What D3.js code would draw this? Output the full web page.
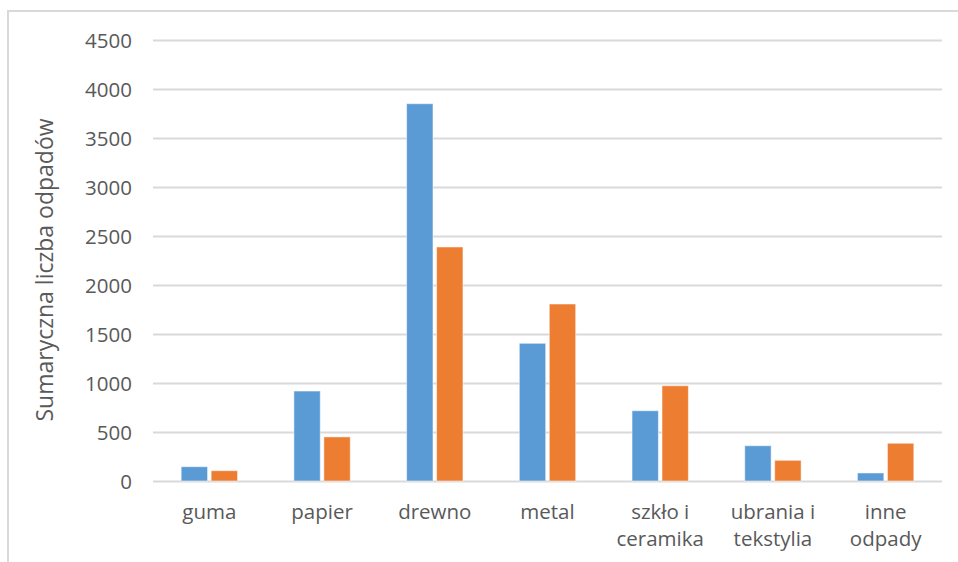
<!DOCTYPE html>
<html><head><meta charset="utf-8">
<script src="https://cdn.jsdelivr.net/npm/d3@7"></script>
<style>body{margin:0;background:#fff;}svg{display:block;}</style>
</head><body>
<svg id="c" width="958" height="562"></svg>
<script>
const categories = [["guma"],["papier"],["drewno"],["metal"],["szkło i","ceramika"],["ubrania i","tekstylia"],["inne","odpady"]];
const seriesA = [146, 918, 3850, 1405, 717, 360, 82];
const seriesB = [105, 450, 2388, 1806, 972, 211, 385];
const seriesColors = ["#5B9BD5", "#ED7D31"];
const yTicks = [0,500,1000,1500,2000,2500,3000,3500,4000,4500];
const yTitle = "Sumaryczna liczba odpadów";

(function(){
const svg = d3.select("#c");
const font = "Open Sans";
const txt = "#595959";
const pL = 153, pR = 942, pT = 40, pB = 481;

svg.append("rect").attr("x",8).attr("y",11).attr("width",1000).attr("height",600)
  .attr("fill","none").attr("stroke","#d9d9d9").attr("stroke-width",2);

const y = d3.scaleLinear().domain([0,4500]).range([pB, pT]);
const idx = d3.range(categories.length);
const x0 = d3.scaleBand().domain(idx).range([pL,pR]).paddingInner(0.5).paddingOuter(0.25);
const x1 = d3.scaleBand().domain([0,1]).range([0,x0.bandwidth()]).paddingInner(0.12);

const yAxis = d3.axisLeft(y).tickValues(yTicks).tickFormat(d3.format("d")).tickSize(-(pR-pL)).tickPadding(21);
const gy = svg.append("g").attr("transform",`translate(${pL},0)`).call(yAxis);
gy.select(".domain").remove();
gy.selectAll(".tick line").attr("stroke","#d9d9d9").attr("stroke-width",2);
gy.selectAll(".tick text").attr("fill",txt).attr("dy","0.36em").style("font-family",font).style("font-size","20.5px");

const series = [seriesA, seriesB];
series.forEach((vals, s) => {
  svg.append("g").selectAll("rect").data(vals).join("rect")
    .attr("x",(d,i)=>x0(i)+x1(s))
    .attr("y",d=>y(d))
    .attr("width",x1.bandwidth())
    .attr("height",d=>y(0)-y(d))
    .attr("fill",seriesColors[s])
    .attr("stroke","#ffffff").attr("stroke-opacity",0.5).attr("stroke-width",1);
});

const gx = svg.append("g");
categories.forEach((lines,i)=>{
  const cx = x0(i)+x0.bandwidth()/2;
  const t = gx.append("text").attr("x",cx).attr("y",519)
    .attr("text-anchor","middle").attr("fill",txt)
    .style("font-family",font).style("font-size","20.5px");
  lines.forEach((l,j)=>{
    t.append("tspan").attr("x",cx).attr("dy", j===0?0:27).text(l);
  });
});

svg.append("text").attr("transform",`translate(53,270) rotate(-90)`)
  .attr("text-anchor","middle").attr("fill",txt)
  .style("font-family",font).style("font-size","23px").text(yTitle);
})();
</script>
</body></html>
